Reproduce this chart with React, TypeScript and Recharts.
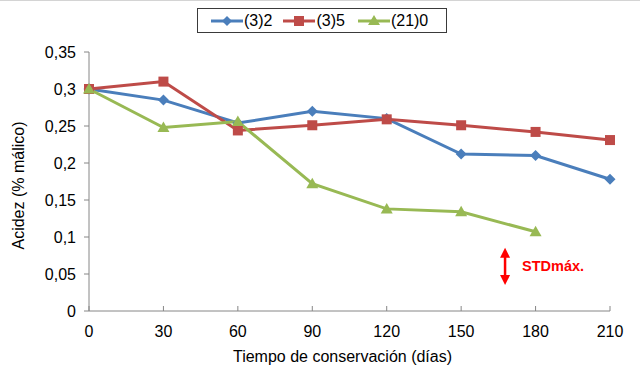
import React from 'react';
import { LineChart, Line, XAxis, YAxis, ReferenceLine } from 'recharts';

const days = [0, 30, 60, 90, 120, 150, 180, 210];
const s32 = [0.3, 0.285, 0.254, 0.27, 0.26, 0.212, 0.21, 0.178];
const s35 = [0.3, 0.31, 0.244, 0.251, 0.259, 0.251, 0.242, 0.231];
const s210 = [0.3, 0.248, 0.256, 0.172, 0.138, 0.134, 0.107, null];
const yTicks = [0, 0.05, 0.1, 0.15, 0.2, 0.25, 0.3, 0.35];
const seriesNames = ['(3)2', '(3)5', '(21)0'];
const colors = ['#4A7EBB', '#BE4B48', '#98B954'];
const stdX = 167.7;
const stdY = [0.035, 0.0855];

const data = days.map((d, i) => ({ d, a: s32[i], b: s35[i], c: s210[i] }));

const FONT = 'Liberation Sans, Arial, sans-serif';
const FS = 16;

const Diamond = (props: any) => {
  const { cx, cy, fill } = props;
  if (cx == null || cy == null) return null;
  const r = 5.5;
  return <polygon points={`${cx},${cy - r} ${cx + r},${cy} ${cx},${cy + r} ${cx - r},${cy}`} fill={fill} />;
};
const Square = (props: any) => {
  const { cx, cy, fill } = props;
  if (cx == null || cy == null) return null;
  const r = 5;
  return <rect x={cx - r} y={cy - r} width={2 * r} height={2 * r} fill={fill} />;
};
const Tri = (props: any) => {
  const { cx, cy, fill } = props;
  if (cx == null || cy == null) return null;
  const r = 6;
  return <polygon points={`${cx},${cy - r} ${cx + r},${cy + r * 0.75} ${cx - r},${cy + r * 0.75}`} fill={fill} />;
};

const XTick = (props: any) => {
  const { x, y, payload } = props;
  return (
    <g>
      <line x1={x} x2={x} y1={y} y2={y - 5} stroke="#868686" strokeWidth={1} />
      <text x={x} y={y + 26} textAnchor="middle" fontSize={FS} fontFamily={FONT} fill="#000">
        {payload.value}
      </text>
    </g>
  );
};

const fmt = (v: number) => String(Math.round(v * 100) / 100).replace('.', ',');

const LegendBox = () => {
  const icons = [
    (c: string) => <polygon points="18,4 23,9 18,14 13,9" fill={c} />,
    (c: string) => <rect x={13} y={4} width={10} height={10} fill={c} />,
    (c: string) => <polygon points="18,3 24,13 12,13" fill={c} />,
  ];
  return (
    <div
      style={{
        position: 'absolute',
        left: 197,
        top: 7,
        width: 250,
        height: 25,
        border: '1px solid #3a3a3a',
        boxSizing: 'border-box',
        display: 'flex',
        alignItems: 'center',
        paddingLeft: 11,
        fontFamily: FONT,
        fontSize: FS,
      }}
    >
      {seriesNames.map((n, i) => (
        <div key={n} style={{ display: 'flex', alignItems: 'center', marginRight: i === 0 ? 9 : 11 }}>
          <svg width={34} height={18}>
            <line x1={2} x2={34} y1={9} y2={9} stroke={colors[i]} strokeWidth={3} />
            {icons[i](colors[i])}
          </svg>
          <span style={{ marginLeft: 1 }}>{n}</span>
        </div>
      ))}
    </div>
  );
};

const StdShape = (props: any) => {
  const { x1, y1, x2, y2 } = props;
  const top = Math.min(y1, y2);
  const bot = Math.max(y1, y2);
  const x = x1;
  const c = '#FF0000';
  return (
    <g>
      <line x1={x} x2={x} y1={top + 8} y2={bot - 8} stroke={c} strokeWidth={2.5} />
      <polygon points={`${x},${top} ${x + 5},${top + 10} ${x - 5},${top + 10}`} fill={c} />
      <polygon points={`${x},${bot} ${x + 5},${bot - 10} ${x - 5},${bot - 10}`} fill={c} />
      <text x={x + 17} y={(top + bot) / 2 + 5} fill={c} fontSize={14.5} fontWeight="bold" fontFamily={FONT}>
        STDmáx.
      </text>
    </g>
  );
};

export default function App() {
  return (
    <div style={{ position: 'absolute', left: 0, top: 0, width: 640, height: 381, background: '#fff', borderTop: '1px solid #d4d4d4', boxSizing: 'border-box' }}>
      <LineChart width={640} height={380} data={data} margin={{ top: 51, right: 30, bottom: 0, left: 0 }}>
        <XAxis
          dataKey="d"
          type="number"
          domain={[0, 210]}
          ticks={days}
          axisLine={{ stroke: '#868686' }}
          tickLine={false}
          tickSize={0}
          tickMargin={0}
          height={70}
          tick={<XTick />}
          label={{
            content: (p: any) => {
              const vb = p.viewBox;
              return (
                <text x={vb.x + vb.width / 2 - 7} y={vb.y + 51} textAnchor="middle" fontSize={FS} fontFamily={FONT} fill="#000">
                  Tiempo de conservación (días)
                </text>
              );
            },
          }}
        />
        <YAxis
          type="number"
          domain={[0, 0.35]}
          ticks={yTicks}
          width={89}
          axisLine={{ stroke: '#868686' }}
          tickLine={{ stroke: '#868686' }}
          tickSize={5}
          tickMargin={8}
          tickFormatter={fmt}
          tick={{ fontSize: FS, fontFamily: FONT, fill: '#000' }}
          label={{
            content: (p: any) => {
              const vb = p.viewBox;
              const cy = vb.y + vb.height / 2 + 4;
              return (
                <text x={24} y={cy} transform={`rotate(-90 24 ${cy})`} textAnchor="middle" fontSize={FS} fontFamily={FONT} fill="#000">
                  Acidez (% málico)
                </text>
              );
            },
          }}
        />
        <Line dataKey="a" stroke={colors[0]} strokeWidth={3} dot={<Diamond fill={colors[0]} />} isAnimationActive={false} />
        <Line dataKey="b" stroke={colors[1]} strokeWidth={3} dot={<Square fill={colors[1]} />} isAnimationActive={false} />
        <Line dataKey="c" stroke={colors[2]} strokeWidth={3} dot={<Tri fill={colors[2]} />} isAnimationActive={false} />
        <ReferenceLine
          segment={[{ x: stdX, y: stdY[0] }, { x: stdX, y: stdY[1] }]}
          shape={<StdShape />}
          ifOverflow="visible"
        />
      </LineChart>
      <LegendBox />
    </div>
  );
}
